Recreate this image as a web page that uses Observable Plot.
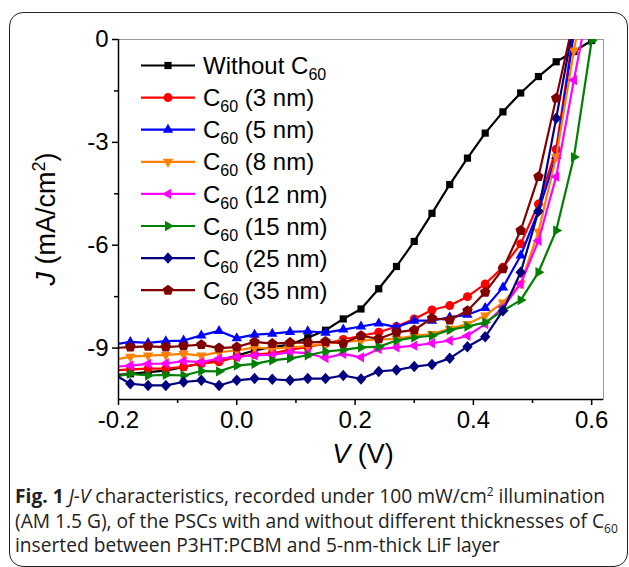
<!DOCTYPE html>
<html>
<head>
<meta charset="utf-8">
<script src="https://cdn.jsdelivr.net/npm/d3@7"></script>
<script src="https://cdn.jsdelivr.net/npm/@observablehq/plot@0.6"></script>
<style>
  body { margin: 0; background: #fff; }
  #wrap { position: relative; width: 629px; height: 567px; overflow: hidden; background: #fff; }
  #frame { position: absolute; left: 9px; top: 12px; width: 619px; height: 555px; border: 1.5px solid #222; border-radius: 14px; box-sizing: border-box; }
  #chart { position: absolute; left: 0; top: 0; }
  #cap { position: absolute; left: 15px; top: 484px; width: 612px; white-space: nowrap; font-family: "Open Sans", sans-serif; font-size: 19.2px; letter-spacing: 0px; line-height: 24.5px; color: #222; }
  #cap sub, #cap sup { font-size: 12px; line-height: 0; }
</style>
</head>
<body>
<div id="wrap">
  <div id="frame"></div>
  <div id="chart"></div>
  <div id="cap"><b>Fig. 1</b> <i>J-V</i> characteristics, recorded under 100 mW/cm<sup>2</sup> illumination<br>(AM 1.5 G), of the PSCs with and without different thicknesses of C<sub>60</sub><br>inserted between P3HT:PCBM and 5-nm-thick LiF layer</div>
</div>
<script>
// ---- data ----
const voltage = [-0.21,-0.18,-0.15,-0.12,-0.09,-0.06,-0.03,0,0.03,0.06,0.09,0.12,0.15,0.18,0.21,0.24,0.27,0.30,0.33,0.36,0.39,0.42,0.45,0.48,0.51,0.54,0.57,0.60];
const seriesNames = ["Without C60","C60 (3 nm)","C60 (5 nm)","C60 (8 nm)","C60 (12 nm)","C60 (15 nm)","C60 (25 nm)","C60 (35 nm)"];
const jWithout = [-9.8,-9.75,-9.7,-9.66,-9.55,-9.45,-9.36,-9.22,-9.07,-8.97,-8.9,-8.7,-8.48,-8.15,-7.86,-7.27,-6.62,-5.89,-5.07,-4.23,-3.46,-2.73,-2.11,-1.56,-1.08,-0.65,-0.35,-0.03];
const j3nm = [-9.65,-9.62,-9.6,-9.6,-9.55,-9.45,-9.4,-9.26,-9.19,-9.15,-9.05,-8.97,-8.87,-8.75,-8.64,-8.54,-8.37,-8.15,-7.89,-7.76,-7.5,-7.13,-6.64,-5.96,-4.8,-3.2,0.3,3];
const j5nm = [-8.9,-8.82,-8.85,-8.8,-8.78,-8.63,-8.5,-8.71,-8.61,-8.58,-8.53,-8.51,-8.55,-8.46,-8.37,-8.28,-8.39,-8.2,-8.2,-8.1,-8.03,-7.83,-7.23,-6.3,-5.0,-3.4,0.2,3];
const j8nm = [-9.35,-9.25,-9.22,-9.2,-9.17,-9.22,-9.12,-9.07,-8.98,-9.02,-8.98,-8.94,-8.87,-8.82,-8.78,-8.75,-8.73,-8.64,-8.59,-8.44,-8.3,-8.05,-7.67,-7.12,-5.6,-3.42,-0.32,2.5];
const j12nm = [-9.55,-9.51,-9.46,-9.45,-9.38,-9.41,-9.31,-9.26,-9.21,-9.2,-9.12,-9.15,-9.29,-9.17,-9.27,-9.03,-8.98,-8.93,-8.86,-8.78,-8.64,-8.3,-7.81,-7.13,-5.87,-4.0,-1.18,1.5];
const j15nm = [-9.85,-9.75,-9.8,-9.78,-9.8,-9.67,-9.68,-9.51,-9.46,-9.36,-9.3,-9.21,-9.1,-9.05,-8.98,-8.96,-8.78,-8.69,-8.64,-8.47,-8.37,-8.25,-7.91,-7.6,-6.79,-5.57,-3.43,-0.03];
const j25nm = [-9.75,-10.04,-10.09,-10.09,-9.99,-9.94,-10.09,-9.94,-9.89,-9.91,-9.94,-9.89,-9.89,-9.8,-9.9,-9.68,-9.64,-9.54,-9.48,-9.3,-8.96,-8.67,-7.91,-6.79,-5.01,-2.3,0.5,3];
const j35nm = [-9.0,-8.97,-8.95,-8.97,-8.94,-8.9,-9.0,-8.97,-8.82,-8.87,-8.84,-8.84,-8.81,-8.86,-8.64,-8.73,-8.54,-8.47,-8.13,-8.18,-7.91,-7.37,-6.69,-5.57,-4.0,-1.71,0.6,3];
const xTicks = [-0.2, 0.0, 0.2, 0.4, 0.6];
const xMinorTicks = [-0.1, 0.1, 0.3, 0.5];
const yTicks = [0, -3, -6, -9];
const yMinorTicks = [-1.5, -4.5, -7.5];

// ---- symbols ----
const rad = size => Math.sqrt(size / Math.PI);
const poly = (n, start, k, widthScale = 1) => ({
  draw(c, size) {
    const R = rad(size) * k;
    for (let i = 0; i < n; i++) {
      const a = start + i * 2 * Math.PI / n;
      const px = Math.cos(a) * R * widthScale, py = Math.sin(a) * R;
      if (i === 0) c.moveTo(px, py); else c.lineTo(px, py);
    }
    c.closePath();
  }
});
const symSquare = { draw(c, size) { const h = rad(size) * 0.72; c.rect(-h, -h, 2 * h, 2 * h); } };
const symCircle = { draw(c, size) { const r = rad(size) * 0.9; c.moveTo(r, 0); c.arc(0, 0, r, 0, 2 * Math.PI); } };
const symTriUp = poly(3, -Math.PI / 2, 1.2);
const symTriDown = poly(3, Math.PI / 2, 1.2);
const symTriLeft = poly(3, Math.PI, 1.2);
const symTriRight = poly(3, 0, 1.2);
const symDiamond = poly(4, -Math.PI / 2, 1.15, 0.9);
const symPentagon = poly(5, -Math.PI / 2, 1.1);

const seriesValues = [jWithout, j3nm, j5nm, j8nm, j12nm, j15nm, j25nm, j35nm];
const colors = ["#000000", "#ff0000", "#0000ff", "#ff8000", "#ff00ff", "#008000", "#000080", "#800000"];
const symbols = [symSquare, symCircle, symTriUp, symTriDown, symTriLeft, symTriRight, symDiamond, symPentagon];

const tables = seriesValues.map(arr => voltage.map((v, i) => ({ V: v, J: arr[i] })));

const marks = [];
tables.forEach((t, k) => {
  marks.push(Plot.line(t, { x: "V", y: "J", stroke: colors[k], strokeWidth: 2.2, clip: true }));
  marks.push(Plot.dot(t, { x: "V", y: "J", symbol: symbols[k], r: 5, fill: colors[k], stroke: "none", clip: true }));
});

const chart = Plot.plot({
  width: 629,
  height: 480,
  marginLeft: 118,
  marginRight: 26,
  marginTop: 39,
  marginBottom: 81,
  x: { domain: [-0.2, 0.62] },
  y: { domain: [-10.5, 0] },
  style: { fontFamily: "'Liberation Sans', Arial, sans-serif", color: "#000", background: "transparent", overflow: "visible" },
  marks: [
    Plot.frame({ stroke: "#999", strokeWidth: 1 }),
    ...marks,
    Plot.ruleX([-0.2], { stroke: "#000", strokeWidth: 1.5 }),
    Plot.ruleY([-10.5], { stroke: "#000", strokeWidth: 1.5 }),
    Plot.axisX({ ticks: xTicks, tickSize: 6, tickPadding: 5, tickFormat: d => d.toFixed(1), label: null, fontSize: 24, strokeWidth: 1.5 }),
    Plot.axisX({ ticks: xMinorTicks, tickSize: 4, tickFormat: () => "", label: null, strokeWidth: 1.5 }),
    Plot.axisY({ ticks: yTicks, tickSize: 6, tickPadding: 4, tickFormat: d => String(d), label: null, fontSize: 24, strokeWidth: 1.5 }),
    Plot.axisY({ ticks: yMinorTicks, tickSize: 4, tickFormat: () => "", label: null, strokeWidth: 1.5 })
  ]
});
document.getElementById("chart").appendChild(chart);

// ---- labels and legend ----
const svg = d3.select(chart);
const font = "'Liberation Sans', Arial, sans-serif";

const yl = svg.append("text")
  .attr("transform", "translate(55,219) rotate(-90)")
  .attr("text-anchor", "middle").attr("font-family", font).attr("font-size", 27).attr("fill", "#000")
  .style("white-space", "pre");
yl.append("tspan").attr("font-style", "italic").text("J");
yl.append("tspan").text(" (mA/cm");
yl.append("tspan").attr("font-size", 18).attr("dy", -10).text("2");
yl.append("tspan").attr("dy", 10).text(")");

const xl = svg.append("text")
  .attr("x", 363).attr("y", 463)
  .attr("text-anchor", "middle").attr("font-family", font).attr("font-size", 27).attr("fill", "#000")
  .style("white-space", "pre");
xl.append("tspan").attr("font-style", "italic").text("V");
xl.append("tspan").text(" (V)");

const lg = svg.append("g");
const legendRest = ["", " (3 nm)", " (5 nm)", " (8 nm)", " (12 nm)", " (15 nm)", " (25 nm)", " (35 nm)"];
seriesNames.forEach((name, i) => {
  const cy = 65.5 + i * 32.1;
  lg.append("line").attr("x1", 141).attr("x2", 195).attr("y1", cy).attr("y2", cy)
    .attr("stroke", colors[i]).attr("stroke-width", 2.2);
  lg.append("path").attr("transform", `translate(168,${cy})`)
    .attr("d", d3.symbol().type(symbols[i]).size(Math.PI * 25)())
    .attr("fill", colors[i]);
  const t = lg.append("text").attr("x", 203).attr("y", cy + 8.6)
    .attr("text-anchor", "start")
    .attr("font-family", font).attr("font-size", 24).attr("fill", "#000").style("white-space", "pre");
  t.append("tspan").text(i === 0 ? "Without C" : "C");
  t.append("tspan").attr("font-size", 16).attr("dy", 6).text("60");
  if (legendRest[i]) t.append("tspan").attr("dy", -6).text(legendRest[i]);
});
</script>
</body>
</html>
